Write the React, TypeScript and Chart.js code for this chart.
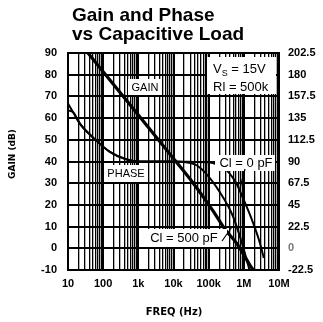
import React, { useEffect, useRef } from 'react';
import { Chart, registerables } from 'chart.js';
Chart.register(...registerables);

// ---- data ----
const xTickLabels = ['10', '100', '1k', '10k', '100k', '1M', '10M'];
const gainTicks = [90, 80, 70, 60, 50, 40, 30, 20, 10, 0, -10];
const phaseTicks = [202.5, 180, 157.5, 135, 112.5, 90, 67.5, 45, 22.5, 0, -22.5];

const gainFreq = [37, 100, 1e3, 1e4, 3e4, 1.3e5, 3e5, 6.2e5, 1e6, 1.6e6, 1.87e6];
const gainDb = [90, 81.4, 61.4, 41.4, 31.8, 17.5, 8.5, 2.4, -3, -8.6, -10];

const phase0Freq = [10, 14, 22, 51, 155, 470, 1.1e3, 1e4, 4e4, 1.3e5, 2.5e5, 3.85e5, 6e5, 9.2e5, 1.6e6, 2.7e6, 3.7e6];
const phase0Deg = [143, 141, 129, 115, 100, 92, 90, 90, 89.5, 88.5, 84, 78, 68, 53, 32, 8.6, -10];

const phase500Freq = [10, 14, 22, 51, 155, 470, 1.1e3, 1e4, 4e4, 7.7e4, 2.05e5, 4.8e5, 9.2e5, 1.25e6, 1.45e6];
const phase500Deg = [150, 141, 129, 115, 100, 92, 90, 90, 87, 79, 58.5, 34, 3.4, -14, -22.5];

const W = 323;
const H = 322;
const CA = { left: 68, right: 279, top: 53, bottom: 270 };

const isDecade = (v: number) => {
  const e = Math.log10(v);
  return Math.abs(e - Math.round(e)) < 1e-9;
};

const toPts = (xs: number[], ys: number[]) => xs.map((x, i) => ({ x, y: ys[i] }));

const decorPlugin = {
  id: 'decor',
  afterDatasetsDraw(chart: any) {
    const ctx = chart.ctx as CanvasRenderingContext2D;
    ctx.save();
    const box = (x: number, y: number, w: number, h: number) => {
      ctx.fillStyle = '#fff';
      ctx.fillRect(x, y, w, h);
    };
    const txt = (s: string, x: number, y: number, font: string, align: CanvasTextAlign = 'center') => {
      ctx.fillStyle = '#000';
      ctx.font = font;
      ctx.textAlign = align;
      ctx.textBaseline = 'middle';
      ctx.fillText(s, x, y);
    };
    const lab = '13px "Liberation Sans", Arial, sans-serif';
    const lab2 = '11px "Liberation Sans", Arial, sans-serif';
    // GAIN
    box(128, 79, 33, 16);
    txt('GAIN', 145, 87.5, lab2);
    // PHASE
    box(105, 165, 41, 17);
    txt('PHASE', 126, 173.5, lab2);
    // Vs / Rl box
    box(207, 57, 69, 37);
    ctx.fillStyle = '#000';
    ctx.textBaseline = 'alphabetic';
    ctx.textAlign = 'left';
    ctx.font = lab;
    let x = 213;
    ctx.fillText('V', x, 73);
    x += ctx.measureText('V').width;
    ctx.font = '9px "Liberation Sans", Arial, sans-serif';
    ctx.fillText('S', x, 76);
    x += ctx.measureText('S').width;
    ctx.font = lab;
    ctx.fillText(' = 15V', x, 73);
    ctx.fillText('Rl = 500k', 213, 91);
    // Cl = 0 pF
    box(215, 155, 60, 16);
    txt('Cl = 0 pF', 246, 163.5, lab);
    // Cl = 500 pF
    box(143, 229, 84, 18);
    txt('Cl = 500 pF', 184, 238.5, lab);
    // leaders
    ctx.strokeStyle = '#000';
    ctx.lineWidth = 1.2;
    ctx.beginPath();
    ctx.moveTo(245, 169);
    ctx.lineTo(240, 188);
    ctx.moveTo(222, 241);
    ctx.lineTo(232, 227);
    ctx.stroke();

    // Title
    ctx.font = 'bold 19px "Liberation Sans", Arial, sans-serif';
    ctx.textAlign = 'left';
    ctx.textBaseline = 'alphabetic';
    ctx.fillStyle = '#000';
    ctx.fillText('Gain and Phase', 72, 21);
    ctx.fillText('vs Capacitive Load', 72, 40);

    // Axis titles
    ctx.font = 'bold 9px "DejaVu Sans", sans-serif';
    ctx.save();
    ctx.translate(13, 154);
    ctx.rotate(-Math.PI / 2);
    ctx.textAlign = 'center';
    ctx.textBaseline = 'middle';
    ctx.fillText('GAIN (dB)', 0, 0);
    ctx.restore();
    ctx.font = 'bold 10px "DejaVu Sans", sans-serif';
    ctx.textAlign = 'center';
    ctx.textBaseline = 'middle';
    ctx.fillText('FREQ (Hz)', 174, 312);
    ctx.restore();
  },
};

export default function App() {
  const ref = useRef<HTMLCanvasElement>(null);
  useEffect(() => {
    if (!ref.current) return;
    const tickFont = { family: '"Liberation Sans", Arial, sans-serif', size: 11, weight: 'bold' as const };
    const chart = new Chart(ref.current, {
      type: 'line',
      data: {
        datasets: [
          {
            label: 'Gain',
            data: toPts(gainFreq, gainDb),
            yAxisID: 'y',
            borderColor: '#000',
            borderWidth: 3.2,
            pointRadius: 0,
            cubicInterpolationMode: 'monotone',
          },
          {
            label: 'Phase Cl = 0 pF',
            data: toPts(phase0Freq, phase0Deg),
            yAxisID: 'y2',
            borderColor: '#000',
            borderWidth: 2,
            pointRadius: 0,
            cubicInterpolationMode: 'monotone',
          },
          {
            label: 'Phase Cl = 500 pF',
            data: toPts(phase500Freq, phase500Deg),
            yAxisID: 'y2',
            borderColor: '#000',
            borderWidth: 2,
            pointRadius: 0,
            cubicInterpolationMode: 'monotone',
          },
        ],
      },
      options: {
        responsive: false,
        animation: false,
        events: [],
        layout: { padding: { top: CA.top, left: 0, right: 0, bottom: 0 } },
        plugins: { legend: { display: false }, tooltip: { enabled: false }, title: { display: false } },
        scales: {
          x: {
            type: 'logarithmic',
            min: 10,
            max: 1e7,
            afterBuildTicks: (scale: any) => {
              const t: any[] = [];
              for (let e = 1; e <= 7; e++) {
                for (let m = 1; m <= 9; m++) {
                  const v = m * Math.pow(10, e);
                  if (v > 1e7) break;
                  t.push({ value: v, major: m === 1 });
                }
              }
              scale.ticks = t;
            },
            afterFit: (scale: any) => {
              scale.height = H - CA.bottom;
            },
            ticks: {
              autoSkip: false,
              maxRotation: 0,
              minRotation: 0,
              padding: 7,
              color: '#000',
              font: tickFont,
              callback: (v: any) => {
                const val = Number(v);
                if (!isDecade(val)) return '';
                return xTickLabels[Math.round(Math.log10(val)) - 1];
              },
            },
            grid: {
              color: '#000',
              lineWidth: (c: any) => (c.tick && isDecade(c.tick.value) ? 2 : 1.3),
              drawTicks: false,
            },
            border: { color: '#000', width: 2 },
          },
          y: {
            position: 'left',
            min: -10,
            max: 90,
            afterBuildTicks: (scale: any) => {
              scale.ticks = gainTicks.map((v) => ({ value: v }));
            },
            afterFit: (scale: any) => {
              scale.width = CA.left;
            },
            ticks: {
              padding: 11,
              color: '#000',
              font: tickFont,
              callback: (v: any) => String(v),
            },
            grid: { color: '#000', lineWidth: 2, drawTicks: false },
            border: { color: '#000', width: 2 },
          },
          y2: {
            position: 'right',
            min: -22.5,
            max: 202.5,
            afterBuildTicks: (scale: any) => {
              scale.ticks = phaseTicks.map((v) => ({ value: v }));
            },
            afterFit: (scale: any) => {
              scale.width = W - CA.right;
            },
            ticks: {
              padding: 9,
              color: (c: any) => (c.tick && c.tick.value === 0 ? '#777' : '#000'),
              font: tickFont,
              callback: (v: any) => String(v),
            },
            grid: { display: false, drawTicks: false },
            border: { color: '#000', width: 2 },
          },
        },
      },
      plugins: [decorPlugin],
    });
    return () => chart.destroy();
  }, []);
  return (
    <div style={{ position: 'fixed', left: 0, top: 0, width: W, height: H, background: '#fff' }}>
      <canvas ref={ref} width={W} height={H} style={{ width: W, height: H, display: 'block' }} />
    </div>
  );
}
